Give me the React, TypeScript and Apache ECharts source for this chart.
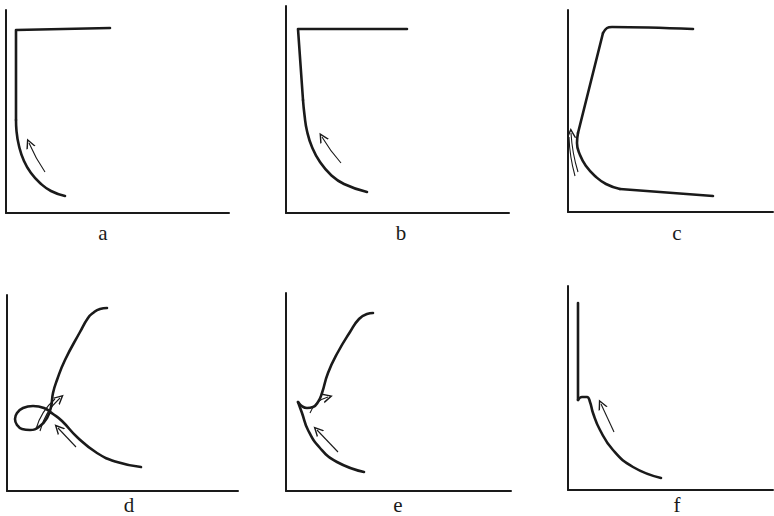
import React, { useEffect, useRef } from "react";
import * as echarts from "echarts";

// ---- data (x, y in each panel's own axis units) ----
const panelLabels = ["a", "b", "c", "d", "e", "f"];
const axisMaxX = [223, 223, 205, 231, 225, 205];
const axisMaxY = [203, 207, 202, 196, 198, 204];

// panel a
const aFrame = [[104, 185], [10, 183], [10, 93]];
const aCurve = [[10, 93], [10.5, 82], [13, 67], [18, 52], [25, 40], [34, 30], [45, 22], [59, 17]];
const aArrow = [[39, 41], [23, 70]];

// panel b
const bFrame = [[121, 184], [12, 184], [17, 113]];
const bCurve = [[17, 113], [18.5, 98], [21, 82], [26, 66], [34, 51], [45, 38], [58, 29], [81, 21]];
const bArrow = [[55, 50], [36, 76]];

// panel c
const cTop = [[125, 183], [44, 185], [39, 184], [35, 179]];
const cRise = [[35, 179], [10, 79]];
const cCurve = [[10, 79], [9, 69], [12, 57], [18, 46], [27, 36], [38, 28], [52, 23]];
const cTail = [[52, 23], [145, 16]];
const cArrow = [[10, 40], [3, 79]];
const cArrow2 = [[7, 36], [1, 75]];

// panel d
const dCurve = [
  [100, 183], [93, 182], [86, 178], [81, 173], [73, 159], [58, 131], [50, 111],
  [46, 98], [44, 84], [40, 73], [33, 65], [23, 61], [15, 62], [10, 66], [8, 72],
  [10, 78], [16, 83], [26, 85], [37, 83], [46, 77], [55, 70], [70, 54], [90, 38], [110, 29], [134, 24],
];
const dArrow = [[33, 60], [53, 93]];
const dArrow2 = [[29, 62], [48, 92]];
const dArrow3 = [[69, 44], [51, 63]];

// panel e
const eUpper = [[87, 178], [81, 177], [73, 172], [64, 159], [52, 139], [42, 118], [36, 98], [32, 89], [27, 84], [21, 83], [12, 89]];
const eLower = [[12, 89], [16, 78], [22, 61], [34, 43], [51, 29], [78, 19]];
const eArrow = [[24, 78], [42, 94]];
const eArrow2 = [[52, 39], [31, 61]];

// panel f
const fStem = [[10, 187], [10, 90]];
const fCurve = [[10, 90], [14, 93], [19, 93], [22, 88], [25, 77], [32, 60], [45, 40], [65, 23], [93, 12]];
const fArrow = [[46, 58], [33, 86]];

// ---- layout ----
const gridBoxes = [
  [6, 10, 223, 203],
  [286, 6, 223, 207],
  [568, 10, 205, 202],
  [7, 295, 231, 196],
  [286, 293, 225, 198],
  [568, 286, 205, 204],
];
const labelPos = [
  [103, 233], [401, 233], [677, 233],
  [129, 505], [398, 505], [677, 505],
];

const INK = "#1a1a1a";
const chevron = "path://M5,0 L0,10 L1.6,10 L5,3.2 L8.4,10 L10,10 Z";

type Curve = { panel: number; pts: number[][]; smooth: number | boolean };
type Arrow = { panel: number; pts: number[][]; curv: number; head: boolean };

const curves: Curve[] = [
  { panel: 0, pts: aFrame, smooth: false },
  { panel: 0, pts: aCurve, smooth: 0.5 },
  { panel: 1, pts: bFrame, smooth: false },
  { panel: 1, pts: bCurve, smooth: 0.5 },
  { panel: 2, pts: cTop, smooth: 0.4 },
  { panel: 2, pts: cRise, smooth: false },
  { panel: 2, pts: cCurve, smooth: 0.5 },
  { panel: 2, pts: cTail, smooth: false },
  { panel: 3, pts: dCurve, smooth: 0.5 },
  { panel: 4, pts: eUpper, smooth: 0.5 },
  { panel: 4, pts: eLower, smooth: 0.5 },
  { panel: 5, pts: fStem, smooth: false },
  { panel: 5, pts: fCurve, smooth: 0.5 },
];

const arrows: Arrow[] = [
  { panel: 0, pts: aArrow, curv: 0.05, head: true },
  { panel: 1, pts: bArrow, curv: 0.05, head: true },
  { panel: 2, pts: cArrow, curv: 0.06, head: true },
  { panel: 2, pts: cArrow2, curv: 0.06, head: false },
  { panel: 3, pts: dArrow, curv: 0.15, head: true },
  { panel: 3, pts: dArrow2, curv: 0.15, head: false },
  { panel: 3, pts: dArrow3, curv: 0, head: true },
  { panel: 4, pts: eArrow, curv: 0.25, head: true },
  { panel: 4, pts: eArrow2, curv: 0, head: true },
  { panel: 5, pts: fArrow, curv: 0, head: true },
];

export default function App() {
  const ref = useRef<HTMLDivElement>(null);
  useEffect(() => {
    if (!ref.current) return;
    const chart = echarts.init(ref.current, undefined, { renderer: "svg" });
    const axisLine = { show: true, lineStyle: { color: INK, width: 2 } };
    const grids = gridBoxes.map(([left, top, width, height]) => ({ left, top, width, height }));
    const xAxes = gridBoxes.map((_, i) => ({
      type: "value", gridIndex: i, min: 0, max: axisMaxX[i],
      axisLine, axisTick: { show: false }, axisLabel: { show: false }, splitLine: { show: false },
    }));
    const yAxes = gridBoxes.map((_, i) => ({
      type: "value", gridIndex: i, min: 0, max: axisMaxY[i],
      axisLine, axisTick: { show: false }, axisLabel: { show: false }, splitLine: { show: false },
    }));
    const series: any[] = [];
    curves.forEach((c) => {
      series.push({
        type: "line", xAxisIndex: c.panel, yAxisIndex: c.panel, data: c.pts,
        smooth: c.smooth, showSymbol: false, symbol: "none", clip: false, silent: true,
        lineStyle: { color: INK, width: 2.6, cap: "round", join: "round" },
      });
    });
    arrows.forEach((a) => {
      series.push({
        type: "lines", coordinateSystem: "cartesian2d", xAxisIndex: a.panel, yAxisIndex: a.panel,
        symbol: ["none", a.head ? chevron : "none"], symbolSize: [7, 10], silent: true,
        lineStyle: { color: INK, width: 1.1, curveness: a.curv, opacity: 1 },
        data: [{ coords: a.pts }],
      });
    });
    const graphic = panelLabels.map((t, i) => ({
      type: "text", x: labelPos[i][0], y: labelPos[i][1],
      style: { text: t, font: '21px "Liberation Serif"', fill: INK, align: "center", verticalAlign: "middle" },
    }));
    chart.setOption({
      animation: false,
      backgroundColor: "#ffffff",
      grid: grids,
      xAxis: xAxes,
      yAxis: yAxes,
      series,
      graphic,
    });
    return () => chart.dispose();
  }, []);
  return (
    <div
      ref={ref}
      style={{ position: "absolute", left: 0, top: 0, width: 774, height: 516, background: "#fff" }}
    />
  );
}
